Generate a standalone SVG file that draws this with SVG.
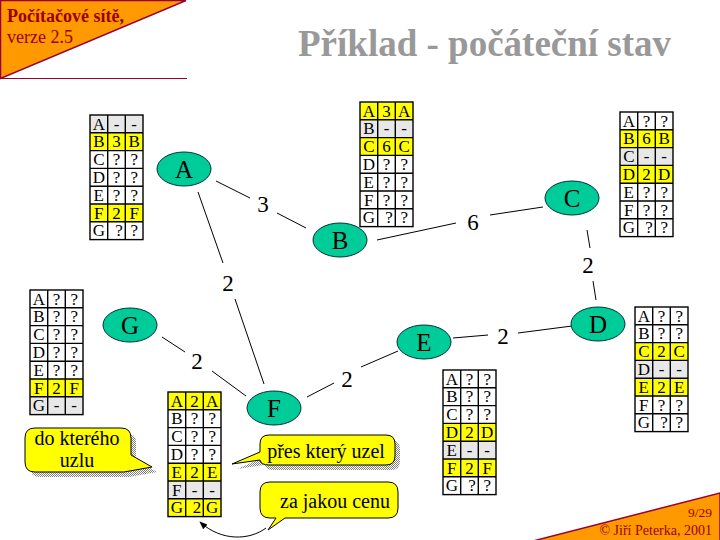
<svg xmlns="http://www.w3.org/2000/svg" xmlns:xlink="http://www.w3.org/1999/xlink" width="720" height="540" viewBox="0 0 720 540">
<style>
.corner{fill:#ff9900;stroke:#990033;stroke-width:1.5}
.ct{font-family:"Liberation Serif",serif;fill:#990000}
.title{font-family:"Liberation Serif",serif;font-weight:bold;font-size:37px;fill:#999999}
.node ellipse{fill:#00cc99;stroke:#003333;stroke-width:1}
.node text{font-family:"Liberation Serif",serif;font-size:25px;text-anchor:middle;fill:#000}
.edges line{stroke:#000;stroke-width:1}
.el{font-family:"Liberation Serif",serif;font-size:23px;text-anchor:middle;fill:#000}
.t text{font-family:"Liberation Serif",serif;font-size:17px;text-anchor:middle;fill:#000}
.w{fill:#fff}.yl{fill:#ffff00}.gr{fill:#e8e8e8}
.gl{fill:none;stroke:#000;stroke-width:1.4}
.bub{fill:#ffff00;stroke:#000;stroke-width:1}
.sh{fill:url(#dith)}
.bt{font-family:"Liberation Serif",serif;font-size:20px;text-anchor:middle;fill:#000}
</style>
<defs>
<pattern id="dith" width="2" height="2" patternUnits="userSpaceOnUse">
<rect width="1" height="1" fill="#808080"/>
<rect x="1" y="1" width="1" height="1" fill="#808080"/>
</pattern>
<g id="grid">
<rect class="gl" x="0" y="0" width="53" height="124.6"/>
<path class="gl" d="M17.7,0V124.6M35.3,0V124.6M0,17.8H53M0,35.6H53M0,53.4H53M0,71.2H53M0,89H53M0,106.8H53"/>
</g>
<marker id="ah" viewBox="0 0 10 10" refX="9" refY="5" markerWidth="8" markerHeight="8" orient="auto">
<path d="M0,1L10,5L0,9Z" fill="#000"/>
</marker>
</defs>
<rect width="720" height="540" fill="#fff"/>

<g id="corner-tl">
<polygon class="corner" points="0.5,0.5 186,0.5 0.5,78.5"/>
<line x1="0" y1="78.5" x2="187" y2="78.5" stroke="#990033" stroke-width="1"/>
<text class="ct" x="7" y="22" font-size="18" font-weight="bold">Počítačové sítě,</text>
<text class="ct" x="7" y="43" font-size="18">verze 2.5</text>
</g>
<text class="title" x="298" y="56">Příklad - počáteční stav</text>

<g id="corner-br">
<polygon class="corner" points="720,493 720,541 533,541"/>
<text class="ct" x="712" y="517" font-size="13.5" text-anchor="end">9/29</text>
<text class="ct" x="712" y="535" font-size="14" text-anchor="end">© Jiří Peterka, 2001</text>
</g>

<g id="connectors" class="edges">
<line x1="216" y1="181" x2="250" y2="198"/>
<line x1="277" y1="213" x2="306" y2="228"/>
<line x1="198" y1="192" x2="223" y2="263"/>
<line x1="235" y1="299" x2="264" y2="384"/>
<line x1="162" y1="337" x2="185" y2="352"/>
<line x1="212" y1="371" x2="246" y2="396"/>
<line x1="307" y1="397" x2="334" y2="383"/>
<line x1="361" y1="367" x2="398" y2="351"/>
<line x1="377" y1="240" x2="456" y2="223"/>
<line x1="490" y1="215" x2="543" y2="207"/>
<line x1="587" y1="230" x2="590" y2="248"/>
<line x1="593" y1="281" x2="596" y2="300"/>
<line x1="453" y1="338" x2="488" y2="335"/>
<line x1="518" y1="333" x2="572" y2="326"/>
<text class="el" x="263" y="212">3</text>
<text class="el" x="228" y="291">2</text>
<text class="el" x="197" y="369">2</text>
<text class="el" x="347" y="387">2</text>
<text class="el" x="473" y="230">6</text>
<text class="el" x="588" y="273">2</text>
<text class="el" x="503" y="344">2</text>
<path d="M266,528 C250,540 222,542 200,522" fill="none" stroke="#000" stroke-width="1" marker-end="url(#ah)"/>
</g>

<g id="node-A" class="node"><ellipse cx="184" cy="169" rx="27" ry="17"/><text x="184" y="177.5">A</text></g>
<g id="node-B" class="node"><ellipse cx="340" cy="240" rx="27" ry="17"/><text x="340" y="248.5">B</text></g>
<g id="node-C" class="node"><ellipse cx="572" cy="198" rx="27" ry="17"/><text x="572" y="206.5">C</text></g>
<g id="node-D" class="node"><ellipse cx="598" cy="324" rx="27" ry="17"/><text x="598" y="332.5">D</text></g>
<g id="node-E" class="node"><ellipse cx="424" cy="342" rx="27" ry="17"/><text x="424" y="350.5">E</text></g>
<g id="node-F" class="node"><ellipse cx="274" cy="408" rx="27" ry="17"/><text x="274" y="416.5">F</text></g>
<g id="node-G" class="node"><ellipse cx="130" cy="325" rx="27" ry="17"/><text x="130" y="333.5">G</text></g>

<g id="table-A" class="t" transform="translate(90,115)">
<rect class="w" width="53" height="124.6"/>
<rect class="gr" y="0" width="53" height="17.8"/>
<rect class="yl" y="17.8" width="53" height="17.8"/>
<rect class="yl" y="89" width="53" height="17.8"/>
<use xlink:href="#grid"/>
<text y="14.6"><tspan x="8.8">A</tspan><tspan x="26.5">-</tspan><tspan x="44.2">-</tspan></text>
<text y="32.4"><tspan x="8.8">B</tspan><tspan x="26.5">3</tspan><tspan x="44.2">B</tspan></text>
<text y="50.2"><tspan x="8.8">C</tspan><tspan x="26.5">?</tspan><tspan x="44.2">?</tspan></text>
<text y="68"><tspan x="8.8">D</tspan><tspan x="26.5">?</tspan><tspan x="44.2">?</tspan></text>
<text y="85.8"><tspan x="8.8">E</tspan><tspan x="26.5">?</tspan><tspan x="44.2">?</tspan></text>
<text y="103.6"><tspan x="8.8">F</tspan><tspan x="26.5">2</tspan><tspan x="44.2">F</tspan></text>
<text y="121.4"><tspan x="8.8">G</tspan><tspan x="29">?</tspan><tspan x="44.2">?</tspan></text>
</g>

<g id="table-B" class="t" transform="translate(360,102)">
<rect class="w" width="53" height="124.6"/>
<rect class="yl" y="0" width="53" height="17.8"/>
<rect class="gr" y="17.8" width="53" height="17.8"/>
<rect class="yl" y="35.6" width="53" height="17.8"/>
<use xlink:href="#grid"/>
<text y="14.6"><tspan x="8.8">A</tspan><tspan x="26.5">3</tspan><tspan x="44.2">A</tspan></text>
<text y="32.4"><tspan x="8.8">B</tspan><tspan x="26.5">-</tspan><tspan x="44.2">-</tspan></text>
<text y="50.2"><tspan x="8.8">C</tspan><tspan x="26.5">6</tspan><tspan x="44.2">C</tspan></text>
<text y="68"><tspan x="8.8">D</tspan><tspan x="26.5">?</tspan><tspan x="44.2">?</tspan></text>
<text y="85.8"><tspan x="8.8">E</tspan><tspan x="26.5">?</tspan><tspan x="44.2">?</tspan></text>
<text y="103.6"><tspan x="8.8">F</tspan><tspan x="26.5">?</tspan><tspan x="44.2">?</tspan></text>
<text y="121.4"><tspan x="8.8">G</tspan><tspan x="29">?</tspan><tspan x="44.2">?</tspan></text>
</g>

<g id="table-C" class="t" transform="translate(620,112)">
<rect class="w" width="53" height="124.6"/>
<rect class="yl" y="17.8" width="53" height="17.8"/>
<rect class="gr" y="35.6" width="53" height="17.8"/>
<rect class="yl" y="53.4" width="53" height="17.8"/>
<use xlink:href="#grid"/>
<text y="14.6"><tspan x="8.8">A</tspan><tspan x="26.5">?</tspan><tspan x="44.2">?</tspan></text>
<text y="32.4"><tspan x="8.8">B</tspan><tspan x="26.5">6</tspan><tspan x="44.2">B</tspan></text>
<text y="50.2"><tspan x="8.8">C</tspan><tspan x="26.5">-</tspan><tspan x="44.2">-</tspan></text>
<text y="68"><tspan x="8.8">D</tspan><tspan x="26.5">2</tspan><tspan x="44.2">D</tspan></text>
<text y="85.8"><tspan x="8.8">E</tspan><tspan x="26.5">?</tspan><tspan x="44.2">?</tspan></text>
<text y="103.6"><tspan x="8.8">F</tspan><tspan x="26.5">?</tspan><tspan x="44.2">?</tspan></text>
<text y="121.4"><tspan x="8.8">G</tspan><tspan x="29">?</tspan><tspan x="44.2">?</tspan></text>
</g>

<g id="table-G" class="t" transform="translate(30,290)">
<rect class="w" width="53" height="124.6"/>
<rect class="yl" y="89" width="53" height="17.8"/>
<rect class="gr" y="106.8" width="53" height="17.8"/>
<use xlink:href="#grid"/>
<text y="14.6"><tspan x="8.8">A</tspan><tspan x="26.5">?</tspan><tspan x="44.2">?</tspan></text>
<text y="32.4"><tspan x="8.8">B</tspan><tspan x="26.5">?</tspan><tspan x="44.2">?</tspan></text>
<text y="50.2"><tspan x="8.8">C</tspan><tspan x="26.5">?</tspan><tspan x="44.2">?</tspan></text>
<text y="68"><tspan x="8.8">D</tspan><tspan x="26.5">?</tspan><tspan x="44.2">?</tspan></text>
<text y="85.8"><tspan x="8.8">E</tspan><tspan x="26.5">?</tspan><tspan x="44.2">?</tspan></text>
<text y="103.6"><tspan x="8.8">F</tspan><tspan x="26.5">2</tspan><tspan x="44.2">F</tspan></text>
<text y="121.4"><tspan x="8.8">G</tspan><tspan x="26.5">-</tspan><tspan x="44.2">-</tspan></text>
</g>

<g id="table-D" class="t" transform="translate(635,307)">
<rect class="w" width="53" height="124.6"/>
<rect class="yl" y="35.6" width="53" height="17.8"/>
<rect class="gr" y="53.4" width="53" height="17.8"/>
<rect class="yl" y="71.2" width="53" height="17.8"/>
<use xlink:href="#grid"/>
<text y="14.6"><tspan x="8.8">A</tspan><tspan x="26.5">?</tspan><tspan x="44.2">?</tspan></text>
<text y="32.4"><tspan x="8.8">B</tspan><tspan x="26.5">?</tspan><tspan x="44.2">?</tspan></text>
<text y="50.2"><tspan x="8.8">C</tspan><tspan x="26.5">2</tspan><tspan x="44.2">C</tspan></text>
<text y="68"><tspan x="8.8">D</tspan><tspan x="26.5">-</tspan><tspan x="44.2">-</tspan></text>
<text y="85.8"><tspan x="8.8">E</tspan><tspan x="26.5">2</tspan><tspan x="44.2">E</tspan></text>
<text y="103.6"><tspan x="8.8">F</tspan><tspan x="26.5">?</tspan><tspan x="44.2">?</tspan></text>
<text y="121.4"><tspan x="8.8">G</tspan><tspan x="29">?</tspan><tspan x="44.2">?</tspan></text>
</g>

<g id="table-E" class="t" transform="translate(443,370)">
<rect class="w" width="53" height="124.6"/>
<rect class="yl" y="53.4" width="53" height="17.8"/>
<rect class="gr" y="71.2" width="53" height="17.8"/>
<rect class="yl" y="89" width="53" height="17.8"/>
<use xlink:href="#grid"/>
<text y="14.6"><tspan x="8.8">A</tspan><tspan x="26.5">?</tspan><tspan x="44.2">?</tspan></text>
<text y="32.4"><tspan x="8.8">B</tspan><tspan x="26.5">?</tspan><tspan x="44.2">?</tspan></text>
<text y="50.2"><tspan x="8.8">C</tspan><tspan x="26.5">?</tspan><tspan x="44.2">?</tspan></text>
<text y="68"><tspan x="8.8">D</tspan><tspan x="26.5">2</tspan><tspan x="44.2">D</tspan></text>
<text y="85.8"><tspan x="8.8">E</tspan><tspan x="26.5">-</tspan><tspan x="44.2">-</tspan></text>
<text y="103.6"><tspan x="8.8">F</tspan><tspan x="26.5">2</tspan><tspan x="44.2">F</tspan></text>
<text y="121.4"><tspan x="8.8">G</tspan><tspan x="29">?</tspan><tspan x="44.2">?</tspan></text>
</g>

<g id="table-F" class="t" transform="translate(168,392)">
<rect class="w" width="53" height="124.6"/>
<rect class="yl" y="0" width="53" height="17.8"/>
<rect class="yl" y="71.2" width="53" height="17.8"/>
<rect class="gr" y="89" width="53" height="17.8"/>
<rect class="yl" y="106.8" width="53" height="17.8"/>
<use xlink:href="#grid"/>
<text y="14.6"><tspan x="8.8">A</tspan><tspan x="26.5">2</tspan><tspan x="44.2">A</tspan></text>
<text y="32.4"><tspan x="8.8">B</tspan><tspan x="26.5">?</tspan><tspan x="44.2">?</tspan></text>
<text y="50.2"><tspan x="8.8">C</tspan><tspan x="26.5">?</tspan><tspan x="44.2">?</tspan></text>
<text y="68"><tspan x="8.8">D</tspan><tspan x="26.5">?</tspan><tspan x="44.2">?</tspan></text>
<text y="85.8"><tspan x="8.8">E</tspan><tspan x="26.5">2</tspan><tspan x="44.2">E</tspan></text>
<text y="103.6"><tspan x="8.8">F</tspan><tspan x="26.5">-</tspan><tspan x="44.2">-</tspan></text>
<text y="121.4"><tspan x="8.8">G</tspan><tspan x="29">2</tspan><tspan x="44.2">G</tspan></text>
</g>

<g id="callout-do">
<path class="sh" transform="translate(5,5)" d="M35,428 H121 Q131,428 131,438 V455 L152,467 L124,472 H35 Q25,472 25,462 V438 Q25,428 35,428 Z"/>
<path class="bub" d="M35,428 H121 Q131,428 131,438 V455 L152,467 L124,472 H35 Q25,472 25,462 V438 Q25,428 35,428 Z"/>
<text class="bt" x="77" y="445">do kterého</text>
<text class="bt" x="77" y="467">uzlu</text>
</g>
<g id="callout-pres">
<path class="sh" transform="translate(5,5)" d="M269,435 H386 Q395,435 395,444 V456 Q395,465 386,465 H269 Q261,465 260,460 L232,464 L260,452 V444 Q260,435 269,435 Z"/>
<path class="bub" d="M269,435 H386 Q395,435 395,444 V456 Q395,465 386,465 H269 Q261,465 260,460 L232,464 L260,452 V444 Q260,435 269,435 Z"/>
<text class="bt" x="326" y="458">přes který uzel</text>
</g>
<g id="callout-za">
<path class="bub" d="M270,482 H388 Q398,482 398,492 V508 Q398,518 388,518 H285 L268,530 L276,518 H270 Q260,518 260,508 V492 Q260,482 270,482 Z"/>
<text class="bt" x="335" y="508">za jakou cenu</text>
</g>
</svg>
